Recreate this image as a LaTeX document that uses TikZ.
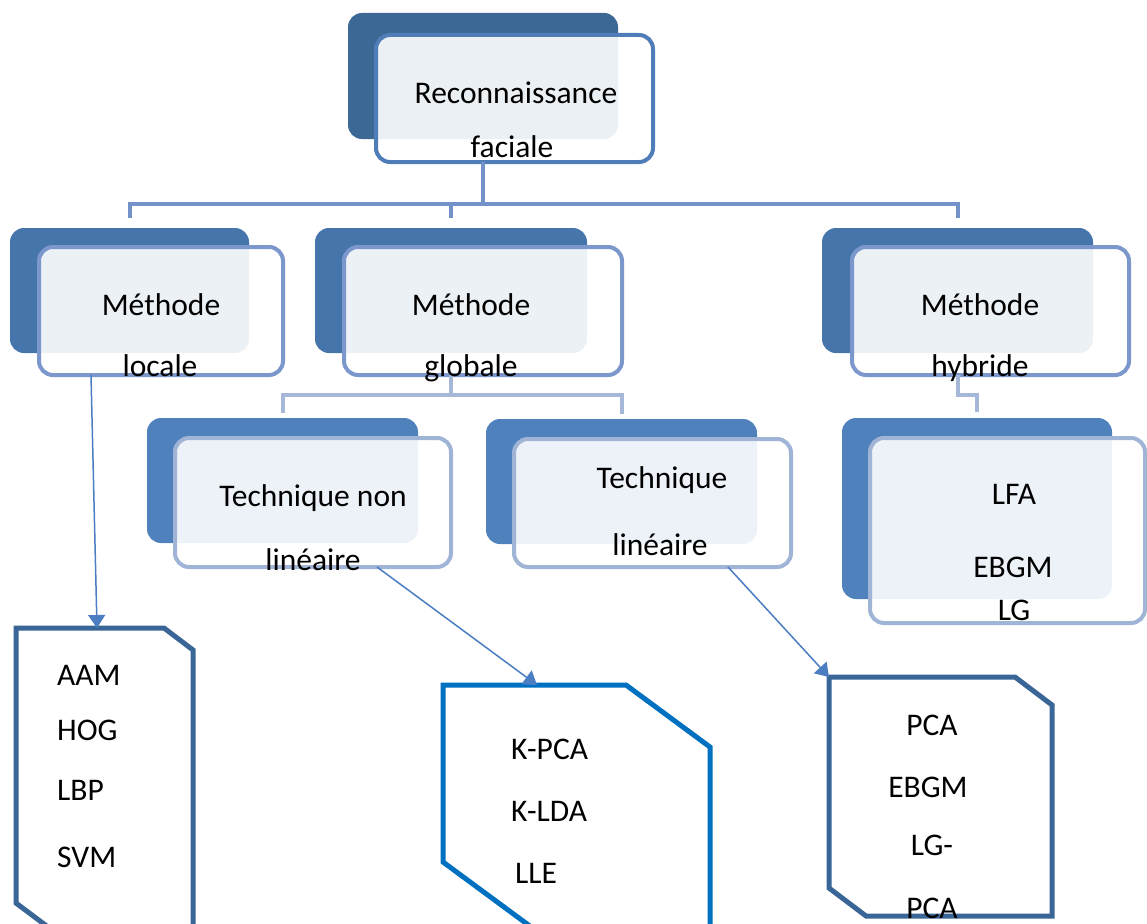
\documentclass[tikz,border=0pt]{standalone}
\usepackage{fontspec}
\setmainfont{Carlito}
\usetikzlibrary{arrows.meta,calc}

\definecolor{topback}{HTML}{3C6896}
\definecolor{topline}{HTML}{4F7DB8}
\definecolor{midback}{HTML}{4675AC}
\definecolor{midline}{HTML}{7B97CB}
\definecolor{lowback}{HTML}{4F82BD}
\definecolor{lowline}{HTML}{A0B4D6}
\definecolor{connA}{HTML}{7393C8}
\definecolor{connB}{HTML}{A5B8D8}
\definecolor{arrowblue}{HTML}{4A7DC2}
\definecolor{listline}{HTML}{3A6597}
\definecolor{listblue}{HTML}{0070C0}

\begin{document}
\begin{tikzpicture}[x=1pt,y=-1pt,
  backbox/.style={fill=#1, rounded corners=14pt, inner sep=0pt, outer sep=0pt},
  frontbox/.style={draw=#1, line width=4pt, fill=white, fill opacity=0.9, draw opacity=1,
                   rounded corners=14pt, inner sep=0pt, outer sep=0pt},
  holder/.style={inner sep=0pt, outer sep=0pt},
  listbox/.style={draw=#1, line width=5pt},
  lbl/.style={font=\fontsize{31.5}{37}\selectfont, inner sep=0pt, anchor=base, text=black},
  treeA/.style={draw=connA, line width=4pt},
  treeB/.style={draw=connB, line width=4pt},
  arr/.style={draw=arrowblue, line width=1.5pt, -{Triangle[length=13pt,width=17pt]}}
]
\useasboundingbox (0,0) rectangle (1147,923);
\clip (0,0) rectangle (1147,923);

% root
\node[backbox=topback, minimum width=270pt, minimum height=126pt] (topback) at (483,76) {};
\node[frontbox=topline, minimum width=277pt, minimum height=127pt] (topfront) at (514.5,98.5) {};

% second level
\node[backbox=midback, minimum width=239pt, minimum height=125pt] (locback) at (129.5,290.5) {};
\node[frontbox=midline, minimum width=244pt, minimum height=128pt] (locfront) at (161,311) {};
\node[backbox=midback, minimum width=272pt, minimum height=125pt] (globback) at (451,290.5) {};
\node[frontbox=midline, minimum width=278pt, minimum height=128pt] (globfront) at (483,311) {};
\node[backbox=midback, minimum width=271pt, minimum height=125pt] (hybback) at (957.5,290.5) {};
\node[frontbox=midline, minimum width=277pt, minimum height=128pt] (hybfront) at (990.5,311) {};

% third level
\node[backbox=lowback, minimum width=271pt, minimum height=125pt] (tnlback) at (282.5,480.5) {};
\node[frontbox=lowline, minimum width=276pt, minimum height=129pt] (tnlfront) at (313,502.5) {};
\node[backbox=lowback, minimum width=271pt, minimum height=125pt] (tlinback) at (621.5,481.5) {};
\node[frontbox=lowline, minimum width=277pt, minimum height=128pt] (tlinfront) at (652.5,503) {};
\node[backbox=lowback, minimum width=270pt, minimum height=181pt] (lfaback) at (977,508.5) {};
\node[frontbox=lowline, minimum width=275pt, minimum height=185pt] (lfafront) at (1007.5,530.5) {};

% tree connectors
\draw[treeA] (topback.center |- topfront.south) -- ++(0,42) coordinate (j1);
\draw[treeA] (j1) -| ([yshift=10pt]locback.north);
\draw[treeA] (j1) -| ([yshift=10pt]globback.north);
\draw[treeA] (j1) -| ([yshift=10pt]hybback.north);

\draw[treeB] (globback.center |- globfront.south) -- ++(0,20) coordinate (j2);
\draw[treeB] (j2) -| ([yshift=5pt]tnlback.north);
\draw[treeB] (j2) -| ([yshift=5pt]tlinback.north);
\draw[treeB] (hybback.center |- hybfront.south) -- ++(0,20) -| ([yshift=6pt]lfaback.north);

% list boxes with cut corners (the two lower ones run past the bottom edge)
\node[holder, minimum width=177pt, minimum height=302pt] (aambox) at (104.5,779) {};
\draw[listbox=listline] (aambox.north west) -- ($(aambox.north east)+(-29,0)$)
  -- ($(aambox.north east)+(0,22)$) -- (aambox.south east)
  -- ($(aambox.south west)+(36,0)$) -- ($(aambox.south west)+(0,-27)$) -- cycle;

\node[holder, minimum width=267pt, minimum height=250pt] (kpcabox) at (576.5,810) {};
\draw[listbox=listblue] (kpcabox.north west) -- ($(kpcabox.north east)+(-84,0)$)
  -- ($(kpcabox.north east)+(0,62)$) -- (kpcabox.south east)
  -- ($(kpcabox.south west)+(99,0)$) -- ($(kpcabox.south west)+(0,-73)$) -- cycle;

\node[holder, minimum width=223pt, minimum height=239pt] (pcabox) at (940.5,796.5) {};
\draw[listbox=listline] (pcabox.north west) -- ($(pcabox.north east)+(-37,0)$)
  -- ($(pcabox.north east)+(0,28)$) -- (pcabox.south east)
  -- ($(pcabox.south west)+(37,0)$) -- ($(pcabox.south west)+(0,-28)$) -- cycle;

% arrows
\draw[arr] ([xshift=-70pt]locfront.south) -- ([xshift=-7.5pt]aambox.north);
\draw[arr] ([xshift=64pt]tnlfront.south) -- ([xshift=-39.5pt]kpcabox.north);
\draw[arr] ([xshift=75.5pt]tlinfront.south) -- (pcabox.north west);

% labels
\node[lbl] (l1a) at (516,103) {Reconnaissance};
\node[lbl] (l1b) at (512,157) {faciale};
\node[lbl] (l2a) at (161,315) {Méthode};
\node[lbl] (l2b) at (160,376) {locale};
\node[lbl] (l3a) at (471,315) {Méthode};
\node[lbl] (l3b) at (471,376) {globale};
\node[lbl] (l4a) at (980,315) {Méthode};
\node[lbl] (l4b) at (980,376) {hybride};
\node[lbl] (l5a) at (313,506) {Technique non};
\node[lbl] (l5b) at (313,570) {linéaire};
\node[lbl] (l6a) at (662,488) {Technique};
\node[lbl] (l6b) at (660,555) {linéaire};
\node[lbl] (l7a) at (1014,504) {LFA};
\node[lbl] (l7b) at (1013,577) {EBGM};
\node[lbl] (l7c) at (1014,620) {LG};

\node[lbl, anchor=base west] (m1) at (57,685) {AAM};
\node[lbl, anchor=base west] (m2) at (57,740) {HOG};
\node[lbl, anchor=base west] (m3) at (57,800) {LBP};
\node[lbl, anchor=base west] (m4) at (57,867) {SVM};

\node[lbl, anchor=base west] (k1) at (511,759) {K-PCA};
\node[lbl, anchor=base west] (k2) at (511,821) {K-LDA};
\node[lbl, anchor=base west] (k3) at (515,883) {LLE};

\node[lbl] (p1) at (932,735) {PCA};
\node[lbl] (p2) at (928,797) {EBGM};
\node[lbl] (p3) at (932,855) {LG-};
\node[lbl] (p4) at (932,918) {PCA};
\end{tikzpicture}
\end{document}
